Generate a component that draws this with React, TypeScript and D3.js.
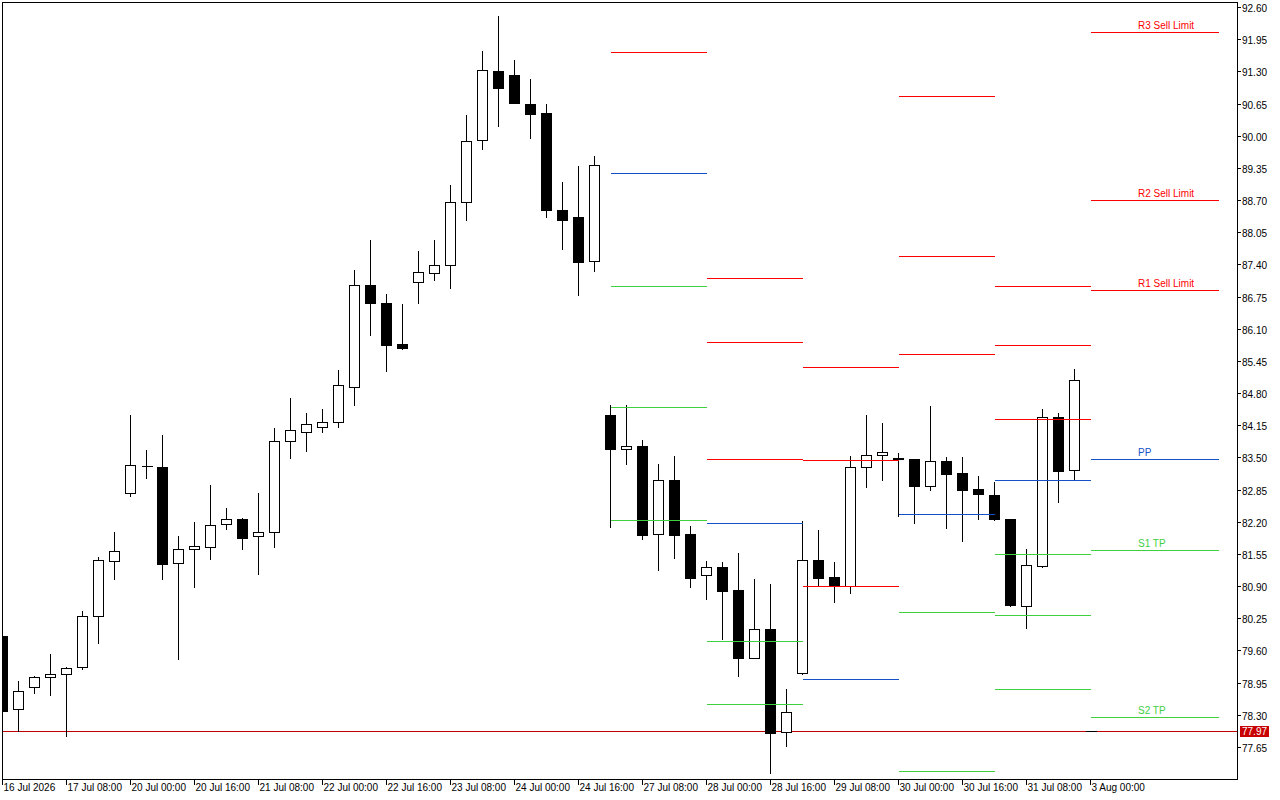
import React, { useRef, useEffect } from "react";
import * as d3 from "d3";

// OHLC per bar (bar 68 is the current, flat bar)
const opens = [
  79.89, 78.41, 78.86, 79.06, 79.12, 79.26, 80.29, 81.4, 82.78, 83.32,
  83.31, 81.36, 81.66, 81.7, 82.15, 82.26, 81.91, 82.0, 83.83, 84.02,
  84.12, 84.21, 84.93, 86.98, 86.63, 85.79, 87.05, 87.23, 87.39, 88.67,
  89.91, 91.31, 91.23, 90.64, 90.46, 88.5, 88.36, 87.46, 84.36, 83.68,
  83.73, 81.95, 83.04, 81.95, 81.12, 81.29, 80.82, 79.45, 80.03, 77.95,
  79.14, 81.43, 81.08, 80.91, 83.31, 83.54, 83.49, 83.47, 82.93, 83.42,
  83.18, 82.86, 82.74, 82.26, 80.49, 81.31, 84.31, 83.24, 77.97,
];
const highs = [
  79.92, 78.98, 79.09, 79.53, 79.27, 80.4, 81.49, 81.99, 84.36, 83.65,
  83.95, 81.91, 82.2, 82.94, 82.48, 82.28, 82.78, 84.1, 84.7, 84.4,
  84.48, 85.27, 87.29, 87.89, 86.8, 86.6, 87.67, 87.89, 89.0, 90.41,
  91.71, 92.42, 91.53, 91.15, 90.64, 89.06, 89.39, 89.59, 84.56, 84.56,
  83.85, 83.37, 83.53, 82.12, 81.41, 81.39, 81.57, 81.04, 80.94, 78.82,
  82.22, 82.03, 81.39, 83.53, 84.36, 84.2, 83.58, 83.47, 84.54, 83.51,
  83.51, 83.13, 83.01, 82.26, 81.65, 84.48, 84.4, 85.29, 77.97,
];
const lows = [
  78.35, 77.98, 78.75, 78.71, 77.88, 79.23, 79.76, 81.04, 82.73, 83.09,
  81.04, 79.42, 80.89, 81.45, 82.06, 81.66, 81.15, 81.7, 83.48, 83.64,
  84.01, 84.12, 84.55, 85.98, 85.25, 85.69, 86.63, 87.09, 86.93, 88.3,
  89.74, 90.2, 90.66, 89.96, 88.36, 87.72, 86.79, 87.27, 82.09, 83.37,
  81.86, 81.23, 81.47, 80.89, 80.63, 79.84, 79.09, 79.45, 77.13, 77.68,
  79.13, 80.9, 80.57, 80.77, 82.91, 83.05, 82.31, 82.18, 82.85, 82.08,
  81.82, 82.26, 82.24, 80.49, 80.06, 81.29, 82.59, 83.04, 77.97,
];
const closes = [
  78.38, 78.78, 79.07, 79.12, 79.24, 80.29, 81.42, 81.6, 83.34, 83.32,
  81.35, 81.66, 81.71, 82.13, 82.25, 81.88, 81.99, 83.83, 84.05, 84.17,
  84.21, 84.96, 86.98, 86.63, 85.78, 85.72, 87.24, 87.38, 88.67, 89.89,
  91.32, 90.97, 90.67, 90.44, 88.49, 88.3, 87.45, 89.41, 83.68, 83.73,
  81.93, 83.04, 81.94, 81.07, 81.28, 80.81, 79.45, 80.03, 77.94, 78.36,
  81.42, 81.07, 80.9, 83.3, 83.54, 83.6, 83.46, 82.93, 83.42, 83.17,
  82.85, 82.77, 82.26, 80.51, 81.32, 84.31, 83.23, 85.06, 77.97,
];

const currentPrice = 77.97;

// pivot periods (bar index where each segment starts / ends)
const pivotStart = [38, 44, 50, 56, 62, 68];
const pivotEnd = [44, 50, 56, 62, 68, 76];
// null = level lies outside the visible price range
const r3 = [null, 87.13, 85.32, 90.8, 86.97, 92.09];
const r2 = [null, 85.83, 83.44, 87.56, 85.77, 88.7];
const r1 = [91.69, 83.46, 80.9, 85.58, 84.27, 86.88];
const pp = [89.24, 82.17, 79.02, 82.35, 83.04, 83.46];
const s1 = [86.96, 79.79, null, 80.37, 81.54, 81.64];
const s2 = [84.52, 78.52, null, 77.16, 80.31, 78.25];
const s3 = [82.23, null, null, null, 78.82, null];

const levelNames = ["R3 Sell Limit", "R2 Sell Limit", "R1 Sell Limit", "PP", "S1 TP", "S2 TP", "S3 TP"];

const priceTicks = [
  92.6, 91.95, 91.3, 90.65, 90.0, 89.35, 88.7, 88.05, 87.4, 86.75, 86.1, 85.45,
  84.8, 84.15, 83.5, 82.85, 82.2, 81.55, 80.9, 80.25, 79.6, 78.95, 78.3, 77.65,
];

const timeTickBars = [0, 4, 8, 12, 16, 20, 24, 28, 32, 36, 40, 44, 48, 52, 56, 60, 64, 68];
const timeLabels = [
  "16 Jul 2026", "17 Jul 08:00", "20 Jul 00:00", "20 Jul 16:00", "21 Jul 08:00",
  "22 Jul 00:00", "22 Jul 16:00", "23 Jul 08:00", "24 Jul 00:00", "24 Jul 16:00",
  "27 Jul 08:00", "28 Jul 00:00", "28 Jul 16:00", "29 Jul 08:00", "30 Jul 00:00",
  "30 Jul 16:00", "31 Jul 08:00", "3 Aug 00:00",
];

const RED = "#ff0000";
const BLUE = "#1450c8";
const GREEN = "#3fcf3f";
const FONT = "Tahoma, 'Liberation Sans', Arial, sans-serif";

const App: React.FC = () => {
  const svgRef = useRef<SVGSVGElement | null>(null);

  useEffect(() => {
    if (!svgRef.current) return;
    const svg = d3.select(svgRef.current);
    svg.selectAll("*").remove();

    const left = 2;
    const right = 1237;
    const top = 2;
    const bottom = 779;

    // 16px per bar
    const x = d3.scaleLinear().domain([0, 1]).range([2, 18]);
    const y = d3.scaleLinear().domain([77.65, 92.6]).range([747, 7]);
    const px = (v: number) => Math.round(v) + 0.5;

    svg
      .append("defs")
      .append("clipPath")
      .attr("id", "plot")
      .append("rect")
      .attr("x", left + 1)
      .attr("y", top + 1)
      .attr("width", right - left - 1)
      .attr("height", bottom - top - 1);

    const plot = svg
      .append("g")
      .attr("clip-path", "url(#plot)")
      .attr("shape-rendering", "crispEdges");

    // Bid line (behind candles)
    plot
      .append("line")
      .attr("x1", left)
      .attr("x2", right)
      .attr("y1", px(y(currentPrice)))
      .attr("y2", px(y(currentPrice)))
      .attr("stroke", "#c00000")
      .attr("stroke-width", 1);

    // Candles
    const bars = d3.range(closes.length);
    const candle = plot.selectAll("g.candle").data(bars).join("g").attr("class", "candle");

    candle
      .filter((i) => highs[i] !== lows[i])
      .append("line")
      .attr("x1", (i) => px(x(i)))
      .attr("x2", (i) => px(x(i)))
      .attr("y1", (i) => Math.round(y(highs[i])))
      .attr("y2", (i) => Math.round(y(lows[i])) + 1)
      .attr("stroke", "#000");

    candle.each(function (i) {
      const g = d3.select(this);
      const cx = px(x(i));
      const yTop = Math.round(y(Math.max(opens[i], closes[i])));
      const yBot = Math.round(y(Math.min(opens[i], closes[i])));
      if (yBot - yTop < 1) {
        g.append("line")
          .attr("x1", cx - 5)
          .attr("x2", cx + 6)
          .attr("y1", yTop + 0.5)
          .attr("y2", yTop + 0.5)
          .attr("stroke", "#000");
        return;
      }
      g.append("rect")
        .attr("x", cx - 5)
        .attr("y", yTop + 0.5)
        .attr("width", 10)
        .attr("height", yBot - yTop)
        .attr("fill", closes[i] < opens[i] ? "#000" : "#fff")
        .attr("stroke", "#000")
        .attr("stroke-width", 1);
    });

    // Pivot levels (on top of candles)
    const levels = [r3, r2, r1, pp, s1, s2, s3];
    const colors = [RED, RED, RED, BLUE, GREEN, GREEN, GREEN];
    levels.forEach((vals, li) => {
      vals.forEach((v, p) => {
        if (v === null) return;
        plot
          .append("line")
          .attr("x1", px(x(pivotStart[p])))
          .attr("x2", px(x(pivotEnd[p])))
          .attr("y1", px(y(v)))
          .attr("y2", px(y(v)))
          .attr("stroke", colors[li])
          .attr("stroke-width", 1);
      });
    });

    // Labels on the latest period
    const last = pivotStart.length - 1;
    levels.forEach((vals, li) => {
      const v = vals[last];
      if (v === null) return;
      plot
        .append("text")
        .attr("x", x(pivotStart[last]) + 48)
        .attr("y", Math.round(y(v)) - 3)
        .attr("font-family", FONT)
        .attr("font-size", 10)
        .attr("fill", colors[li])
        .text(levelNames[li]);
    });

    // Frame
    svg
      .append("rect")
      .attr("x", left + 0.5)
      .attr("y", top + 0.5)
      .attr("width", right - left)
      .attr("height", bottom - top)
      .attr("fill", "none")
      .attr("stroke", "#000")
      .attr("shape-rendering", "crispEdges");

    // Price axis
    const yAxis = svg.append("g").attr("shape-rendering", "crispEdges");
    priceTicks.forEach((t) => {
      const ty = px(y(t));
      yAxis
        .append("line")
        .attr("x1", right)
        .attr("x2", right + 4)
        .attr("y1", ty)
        .attr("y2", ty)
        .attr("stroke", "#000");
      yAxis
        .append("text")
        .attr("x", right + 5)
        .attr("y", ty + 4)
        .attr("font-family", FONT)
        .attr("font-size", 10)
        .attr("fill", "#000")
        .text(d3.format(".2f")(t));
    });

    // Current price tag
    const cy = Math.round(y(currentPrice));
    yAxis
      .append("rect")
      .attr("x", right + 3)
      .attr("y", cy - 5)
      .attr("width", 29)
      .attr("height", 11)
      .attr("fill", "#c80000");
    yAxis
      .append("text")
      .attr("x", right + 5)
      .attr("y", cy + 4)
      .attr("font-family", FONT)
      .attr("font-size", 10)
      .attr("fill", "#fff")
      .text(d3.format(".2f")(currentPrice));

    // Time axis
    const xAxis = svg.append("g").attr("shape-rendering", "crispEdges");
    timeTickBars.forEach((b, k) => {
      const tx = px(x(b));
      xAxis
        .append("line")
        .attr("x1", tx)
        .attr("x2", tx)
        .attr("y1", bottom)
        .attr("y2", bottom + 6)
        .attr("stroke", "#000");
      xAxis
        .append("text")
        .attr("x", tx + 1)
        .attr("y", bottom + 12)
        .attr("font-family", FONT)
        .attr("font-size", 10)
        .attr("fill", "#000")
        .text(timeLabels[k]);
    });
  }, []);

  return (
    <svg
      ref={svgRef}
      width={1280}
      height={800}
      style={{ position: "absolute", left: 0, top: 0, background: "#fff", display: "block" }}
    />
  );
};

export default App;
